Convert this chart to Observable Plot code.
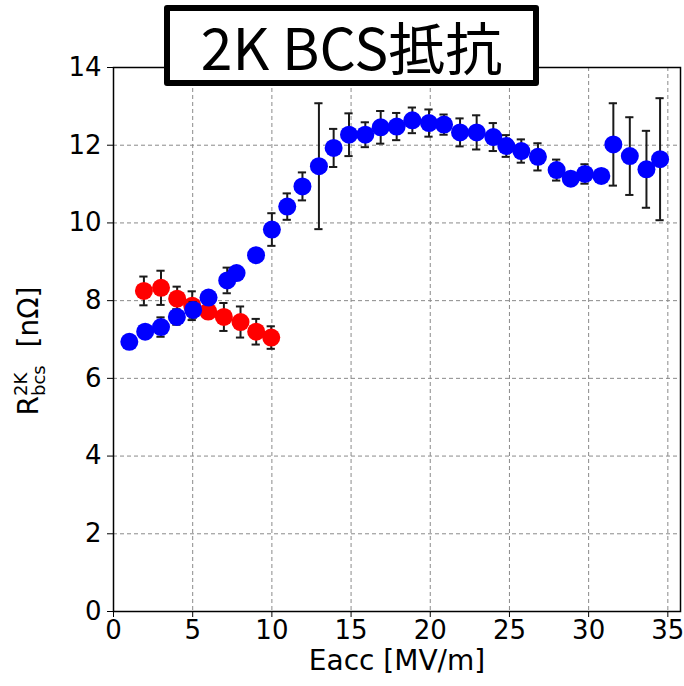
<!DOCTYPE html>
<html>
<head>
<meta charset="utf-8">
<script src="https://cdn.jsdelivr.net/npm/d3@7"></script>
<script src="https://cdn.jsdelivr.net/npm/@observablehq/plot@0.6"></script>
<style>
  html, body { margin: 0; padding: 0; background: #fff; }
  #wrap { position: relative; width: 684px; height: 686px; overflow: hidden; }
  #title {
    position: absolute; left: 164px; top: 5px; width: 375px; height: 81px;
    box-sizing: border-box; border: 6px solid #000; border-radius: 3px; background: #fff;
    font-family: "Noto Sans CJK JP", "Noto Sans", sans-serif; font-size: 57px; color: #000;
    display: flex; align-items: center; justify-content: center; line-height: 1;
  }
</style>
</head>
<body>
<div id="wrap"><div id="title">2K BCS抵抗</div></div>
<script>
// Blue series: Eacc, R_bcs, error
const blueX = [1.0, 2.0, 3.0, 4.0, 5.03, 6.0, 7.18, 7.77, 9.0, 10.0, 10.97, 11.93, 12.97, 13.9, 14.87, 15.9, 16.87, 17.88, 18.87, 19.92, 20.87, 21.88, 22.93, 23.98, 24.8, 25.75, 26.8, 27.98, 28.87, 29.77, 30.8, 31.56, 32.6, 33.65, 34.51];
const blueY = [6.94, 7.2, 7.32, 7.58, 7.76, 8.08, 8.52, 8.71, 9.17, 9.83, 10.42, 10.94, 11.46, 11.93, 12.27, 12.27, 12.46, 12.48, 12.64, 12.57, 12.53, 12.33, 12.33, 12.21, 11.98, 11.85, 11.7, 11.36, 11.14, 11.26, 11.21, 12.02, 11.72, 11.38, 11.64];
const blueErr = [0.15, 0.15, 0.25, 0.2, 0.2, 0.15, 0.33, 0.15, 0.15, 0.42, 0.34, 0.36, 1.62, 0.49, 0.55, 0.32, 0.42, 0.35, 0.33, 0.35, 0.26, 0.36, 0.44, 0.36, 0.28, 0.3, 0.35, 0.27, 0.15, 0.25, 0.15, 1.06, 1.0, 0.99, 1.57];
// Red series
const redX = [1.92, 3.0, 4.02, 4.97, 5.98, 6.97, 8.02, 9.01, 9.96];
const redY = [8.25, 8.33, 8.05, 7.87, 7.72, 7.58, 7.45, 7.2, 7.05];
const redErr = [0.37, 0.44, 0.31, 0.37, 0.15, 0.36, 0.4, 0.33, 0.29];
// Axes
const xTicks = [0, 5, 10, 15, 20, 25, 30, 35];
const yTicks = [0, 2, 4, 6, 8, 10, 12, 14];
const xLabel = "Eacc [MV/m]";

const blue = blueX.map((x, i) => ({x, y: blueY[i], e: blueErr[i]}));
const red = redX.map((x, i) => ({x, y: redY[i], e: redErr[i]}));
const cap = 0.26;
const barColor = "#1a1a1a";

function errMarks(data) {
  return [
    Plot.ruleX(data, {x: "x", y1: d => d.y - d.e, y2: d => d.y + d.e, stroke: barColor, strokeWidth: 2}),
    Plot.ruleY(data, {y: d => d.y + d.e, x1: d => d.x - cap, x2: d => d.x + cap, stroke: barColor, strokeWidth: 2}),
    Plot.ruleY(data, {y: d => d.y - d.e, x1: d => d.x - cap, x2: d => d.x + cap, stroke: barColor, strokeWidth: 2})
  ];
}

const chart = Plot.plot({
  width: 684, height: 686,
  marginLeft: 113, marginRight: 4, marginTop: 67, marginBottom: 75,
  style: {fontFamily: "DejaVu Sans, sans-serif", color: "#000", background: "#fff"},
  x: {domain: [0, 35.8]},
  y: {domain: [0, 14]},
  marks: [
    Plot.gridX(xTicks, {stroke: "#8a8a8a", strokeOpacity: 1, strokeWidth: 1, strokeDasharray: "4,3"}),
    Plot.gridY(yTicks, {stroke: "#8a8a8a", strokeOpacity: 1, strokeWidth: 1, strokeDasharray: "4,3"}),
    Plot.axisX(xTicks, {tickSize: 6, tickPadding: 3, fontSize: 26, label: null, stroke: "#000"}),
    Plot.axisY(yTicks, {tickSize: 6, tickPadding: 6, fontSize: 26, label: null, stroke: "#000"}),
    ...errMarks(red),
    Plot.dot(red, {x: "x", y: "y", r: 9, fill: "#ff0000", stroke: "none"}),
    ...errMarks(blue),
    Plot.dot(blue, {x: "x", y: "y", r: 9, fill: "#0000ff", stroke: "none"}),
    Plot.frame({stroke: "#000", strokeWidth: 1.5}),
    Plot.text([xLabel], {text: d => d, frameAnchor: "bottom", dy: 50, fontSize: 28, lineAnchor: "middle", fill: "#000"})
  ]
});

const svg = d3.select(chart);
// y-axis label with stacked super/subscript
const yl = svg.append("text")
  .attr("transform", "translate(38,351) rotate(-90)")
  .attr("text-anchor", "middle")
  .attr("font-family", "DejaVu Sans, sans-serif")
  .attr("font-size", 28)
  .attr("fill", "#000");
yl.append("tspan").text("R");
yl.append("tspan").attr("font-size", 18).attr("dy", -11).text("2K");
yl.append("tspan").attr("font-size", 18).attr("dx", -23.3).attr("dy", 18).text("bcs");
yl.append("tspan").attr("dy", -7).text("\u00a0 [nΩ]");

document.getElementById("wrap").insertBefore(chart, document.getElementById("title"));
</script>
</body>
</html>
